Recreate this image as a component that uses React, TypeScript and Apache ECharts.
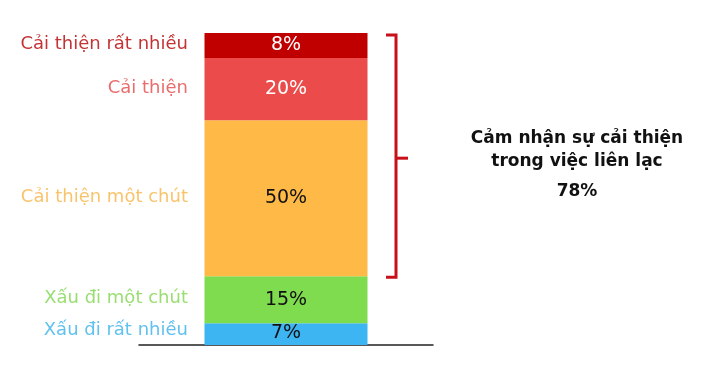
import React, { useEffect, useRef } from "react";
import * as echarts from "echarts";

const categories = ["Liên lạc"];
const segmentNames = ["Xấu đi rất nhiều", "Xấu đi một chút", "Cải thiện một chút", "Cải thiện", "Cải thiện rất nhiều"];
const segmentValues = [7, 15, 50, 20, 8];
const segmentColors = ["#3DB5F2", "#80DC4F", "#FFB947", "#EB4B4B", "#C00000"];
const nameColors = ["#38B0EC", "#7FD64F", "#F7B445", "#E44848", "#B50000"];
const valueLabelColors = ["#111111", "#111111", "#111111", "#FFFFFF", "#FFFFFF"];
const improvedTotal = 78;
const summaryLines = ["Cảm nhận sự cải thiện", "trong việc liên lạc", "78%"];

const FONT = "DejaVu Sans";

export default function App() {
  const ref = useRef<HTMLDivElement>(null);
  useEffect(() => {
    if (!ref.current) return;
    const chart = echarts.init(ref.current, undefined, { renderer: "svg" });
    const centers: number[] = [];
    let acc = 0;
    segmentValues.forEach((v) => {
      centers.push(acc + v / 2);
      acc += v;
    });
    const total = acc;
    const nameShift = [-6, -3, -3, -3, -3];
    const barSeries = segmentValues.map((v, i) => ({
      type: "bar",
      name: segmentNames[i],
      stack: "total",
      barWidth: 163,
      data: [v],
      itemStyle: { color: segmentColors[i] },
      label: {
        show: true,
        position: "inside",
        offset: [0, i === 0 ? -3 : -2],
        formatter: "{c}%",
        color: valueLabelColors[i],
        fontFamily: FONT,
        fontSize: 19,
      },
    }));
    const nameSeries = {
      type: "scatter",
      symbolSize: 0.1,
      itemStyle: { color: "rgba(0,0,0,0)" },
      data: centers.map((c, i) => ({
        value: [0, c],
        label: {
          show: true,
          position: "left",
          distance: 98,
          offset: [0, nameShift[i]],
          formatter: segmentNames[i],
          color: nameColors[i],
          fontFamily: FONT,
          fontSize: 18,
        },
      })),
    };
    const bracketSeries = {
      type: "custom",
      encode: { x: 0, y: [1, 2] },
      data: [[0, total - improvedTotal, total]],
      renderItem: (params: any, api: any) => {
        const top = api.coord([0, api.value(2)]);
        const bot = api.coord([0, api.value(1)]);
        const x = top[0] + 110;
        const yTop = top[1] + 2;
        const yBot = bot[1] + 1;
        const mid = (yTop + yBot) / 2 + 2;
        const stroke = "#C8101A";
        return {
          type: "group",
          children: [
            {
              type: "polyline",
              shape: { points: [[x - 10, yTop], [x, yTop], [x, yBot], [x - 10, yBot]] },
              style: { stroke, lineWidth: 3, fill: "none" },
            },
            {
              type: "line",
              shape: { x1: x, y1: mid, x2: x + 12, y2: mid },
              style: { stroke, lineWidth: 3 },
            },
          ],
        };
      },
    };
    chart.setOption({
      animation: false,
      grid: { left: 139, right: 284, top: 33, bottom: 34 },
      xAxis: {
        type: "category",
        data: categories,
        axisLine: { show: true, lineStyle: { color: "#222222", width: 1.5 } },
        axisTick: { show: false },
        axisLabel: { show: false },
      },
      yAxis: { type: "value", min: 0, max: 100, show: false, splitLine: { show: false } },
      series: [...barSeries, nameSeries, bracketSeries],
      graphic: summaryLines.map((t, i) => ({
        type: "text",
        x: 577,
        y: [137, 160, 190][i],
        style: {
          text: t,
          fill: "#111111",
          font: `bold 17px "${FONT}"`,
          textAlign: "center",
          textVerticalAlign: "middle",
        },
      })),
    });
    return () => chart.dispose();
  }, []);
  return <div ref={ref} style={{ position: "fixed", left: 0, top: 0, width: 717, height: 379 }} />;
}
